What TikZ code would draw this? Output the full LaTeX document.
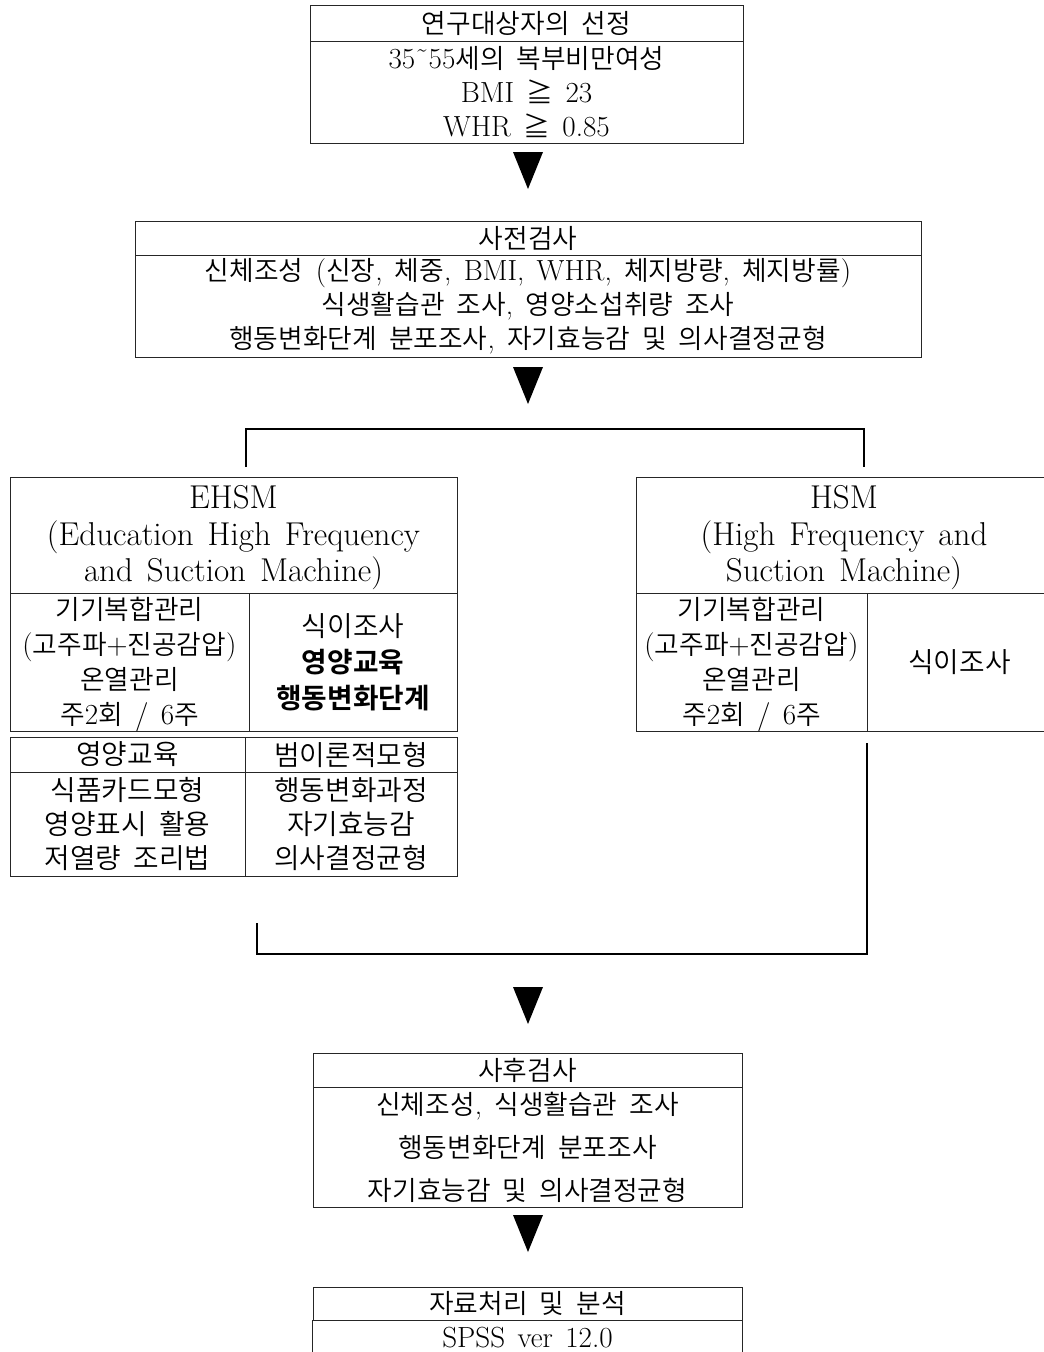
\documentclass[tikz,border=0pt]{standalone}
\usepackage{fontspec}
\setmainfont{Latin Modern Roman}[WordSpace=1.4,Scale=1.12]
\newfontfamily\kr{Noto Sans CJK KR}[UprightFont=* DemiLight, BoldFont=* Bold, WordSpace=2, Scale=1.03]
\newcommand\K[1]{{\kr #1}}
\newcommand\fsN{\fontsize{26}{34}\selectfont}
\newcommand\fsC{\fontsize{27}{36}\selectfont}
\newcommand\fsL{\fontsize{26}{35}\selectfont}
\newcommand\fsT{\fontsize{29.5}{36.5}\selectfont}
\tikzset{
  boxline/.style={draw=black!85, line width=0.9pt},
  cell/.style={boxline, inner sep=0pt, align=center, font=\fsN},
  ccell/.style={cell, font=\fsC},
  ttext/.style={inner sep=0pt, align=center, font=\fsT},
  ltext/.style={inner sep=0pt, align=center, font=\fsL},
  link/.style={draw=black, line width=1.3pt},
  tri/.style={fill=black}
}
\begin{document}
\begin{tikzpicture}[x=1pt,y=-1pt]
\clip (0,0) rectangle (1044,1352);
% box 1
\node[cell, minimum width=433pt, minimum height=36pt] (b1t) at (526.5,23) {\K{연구대상자의 선정}};
\node[cell, minimum width=433pt, minimum height=102pt] (b1b) at (526.5,92)
  {35\char"02DC 55\K{세의 복부비만여성}\\BMI \K{≧} 23\\WHR \K{≧} 0.85};
\coordinate (t1) at (528,152);
\fill[tri] (t1) ++(-15,0) -- ++(30,0) -- ++(-15,37) -- cycle;
% box 2
\node[cell, minimum width=786pt, minimum height=34pt] (b2t) at (528,238) {\K{사전검사}};
\node[cell, minimum width=786pt, minimum height=102pt] (b2b) at (528,306)
  {\K{신체조성} (\K{신장}, \K{체중}, BMI, WHR, \K{체지방량}, \K{체지방률})\\
   \K{식생활습관 조사}, \K{영양소섭취량 조사}\\
   \K{행동변화단계 분포조사}, \K{자기효능감 및 의사결정균형}};
\coordinate (t2) at (528,367);
\fill[tri] (t2) ++(-15,0) -- ++(30,0) -- ++(-15,37) -- cycle;
% split bracket
\coordinate (sL) at (246,467);
\coordinate (sR) at (864,467);
\draw[link] (sL) -- ++(0,-38) -| (sR);
% EHSM
\node[cell, minimum width=447pt, minimum height=116pt] (eT) at (233.5,535) {};
\node[ttext] (eTx) at (233.5,538) {EHSM\\(Education High Frequency\\and Suction Machine)};
\node[cell, minimum width=239pt, minimum height=138pt] (eL) at (129.5,662) {};
\node[ltext] (eLx) at (129.5,664)
  {\K{기기복합관리}\\(\K{고주파}+\K{진공감압})\\\K{온열관리}\\\K{주}2\K{회} / 6\K{주}};
\node[ccell, minimum width=208pt, minimum height=138pt] (eR) at (353,662)
  {\K{식이조사}\\\K{\bfseries 영양교육}\\\K{\bfseries 행동변화단계}};
% table under EHSM
\node[ccell, minimum width=235pt, minimum height=35pt] (tHL) at (127.5,754.5) {\K{영양교육}};
\node[ccell, minimum width=212pt, minimum height=35pt] (tHR) at (351,754.5) {\K{범이론적모형}};
\node[cell, font=\fontsize{27}{34}\selectfont, minimum width=235pt, minimum height=104pt] (tBL) at (127.5,824)
  {\K{식품카드모형}\\\K{영양표시 활용}\\\K{저열량 조리법}};
\node[cell, font=\fontsize{27}{34}\selectfont, minimum width=212pt, minimum height=104pt] (tBR) at (351,824)
  {\K{행동변화과정}\\\K{자기효능감}\\\K{의사결정균형}};
% HSM
\node[cell, minimum width=416pt, minimum height=116pt] (hT) at (844,535) {};
\node[ttext] (hTx) at (844,538) {HSM\\(High Frequency and\\Suction Machine)};
\node[cell, minimum width=231pt, minimum height=138pt] (hL) at (751.5,662) {};
\node[ltext] (hLx) at (751.5,664)
  {\K{기기복합관리}\\(\K{고주파}+\K{진공감압})\\\K{온열관리}\\\K{주}2\K{회} / 6\K{주}};
\node[ccell, minimum width=185pt, minimum height=138pt] (hR) at (959.5,662) {\K{식이조사}};
% join bracket
\coordinate (jR) at (867,743);
\coordinate (jL) at (257,923);
\draw[link] (jR) -- ++(0,211) -| (jL);
\coordinate (t3) at (528,987);
\fill[tri] (t3) ++(-15,0) -- ++(30,0) -- ++(-15,37) -- cycle;
% box 4
\node[cell, minimum width=429pt, minimum height=34pt] (b4t) at (527.5,1070) {\K{사후검사}};
\node[cell, font=\fontsize{26}{43}\selectfont, minimum width=429pt, minimum height=120pt] (b4b) at (527.5,1147)
  {\K{신체조성}, \K{식생활습관 조사}\\\K{행동변화단계 분포조사}\\\K{자기효능감 및 의사결정균형}};
\coordinate (t4) at (528,1215);
\fill[tri] (t4) ++(-15,0) -- ++(30,0) -- ++(-15,37) -- cycle;
% box 5
\node[cell, minimum width=429pt, minimum height=33pt] (b5t) at (527.5,1303.5) {\K{자료처리 및 분석}};
\node[inner sep=0pt, font=\fsN] (b5b) at (527.5,1338) {SPSS ver 12.0};
\draw[boxline] (b5t.south west) -- ++(0,45);
\draw[boxline] (b5t.south east) -- ++(0,45);
\end{tikzpicture}
\end{document}
